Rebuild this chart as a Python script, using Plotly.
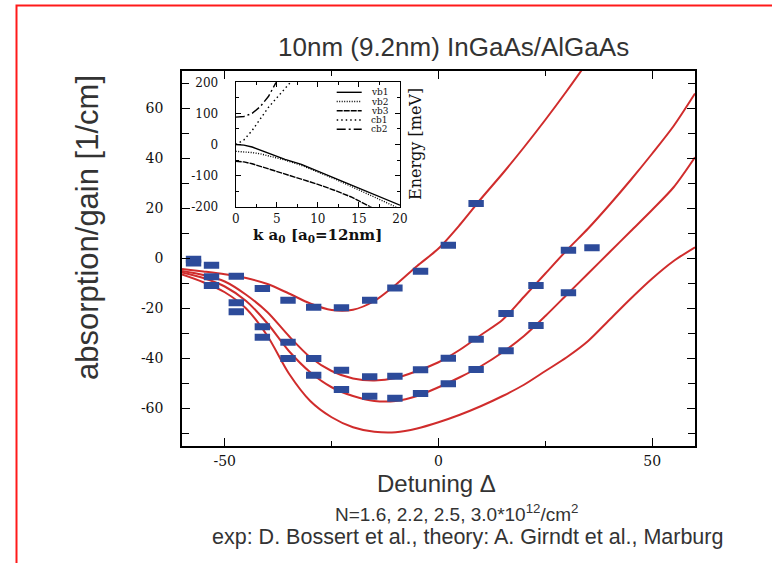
import plotly.graph_objects as go

# ---------------- main panel: absorption / gain vs detuning ----------------
detuning = [-60, -55, -50, -45, -40, -35, -30, -25, -20, -15, -10, -5,
            0, 5, 10, 15, 20, 25, 30, 35, 40, 45, 50, 55, 60]

# theory curves for N = 1.6, 2.2, 2.5, 3.0 x 10^12 / cm^2
theory_n16 = [-4.2, -5.2, -6.3, -7.8, -10.2, -14.0, -18.0, -20.6, -20.5, -17.0,
              -10.5, -3.0, 4.0, 13.5, 24.0, 34.0, 44.5, 55.5, 67.0, 79.0]
theory_n22 = [-5.0, -6.6, -9.2, -14.5, -21.5, -31.0, -39.5, -45.0, -48.0, -48.8,
              -47.8, -45.0, -41.5, -36.5, -30.5, -24.5, -15.3, -6.0, 3.3, 12.0,
              21.5, 31.5, 42.0, 53.0, 66.0]
theory_n25 = [-5.6, -7.8, -11.2, -17.0, -26.0, -37.0, -45.5, -51.5, -55.0, -57.0,
              -57.0, -55.0, -51.5, -47.5, -43.0, -37.5, -31.0, -23.0, -14.5, -6.0,
              2.5, 11.0, 19.5, 28.5, 40.5]
theory_n30 = [-6.4, -9.5, -13.5, -20.0, -31.0, -46.0, -57.0, -63.5, -67.5, -69.3,
              -69.5, -68.0, -65.5, -62.5, -59.0, -55.0, -50.5, -45.0, -39.5, -33.0,
              -24.5, -16.0, -8.0, -1.0, 4.5]

# measured points
exp_n16_x = [-57.3, -53.1, -47.3, -41.2, -35.2, -29.2, -22.7, -16.1, -10.2, -4.2, 2.3, 8.8]
exp_n16_y = [-0.3, -2.7, -7.1, -12.0, -16.7, -19.5, -19.7, -16.7, -11.8, -5.1, 5.3, 22.0]
exp_n22_x = [-57.3, -53.1, -47.3, -41.2, -35.2, -29.2, -22.7, -16.1, -10.2, -4.2, 2.3,
             8.8, 15.8, 22.8, 30.4, 35.9]
exp_n22_y = [-1.8, -7.3, -17.7, -27.3, -33.5, -40.0, -44.7, -47.3, -47.1, -44.5, -39.9,
             -32.3, -22.0, -10.8, 3.3, 4.3]
exp_n25_x = [-53.1, -47.3, -41.2, -35.2, -29.2, -22.7, -16.1, -10.2, -4.2, 2.3, 8.8,
             15.8, 22.8, 30.4]
exp_n25_y = [-10.8, -21.3, -31.5, -40.0, -46.7, -52.4, -55.1, -55.9, -54.0, -50.1,
             -44.4, -36.9, -26.8, -13.7]

x_ticks = [-50, 0, 50]
x_ticktext = ["-50", "0", "50"]
y_ticks = [-60, -40, -20, 0, 20, 40, 60]
y_ticktext = ["-60", "-40", "-20", "0", "20", "40", "60"]

# ---------------- inset: band structure ----------------
k_vals = [0, 1, 2, 3, 4, 5, 6, 8, 10, 12, 14, 16, 18, 20]
vb1 = [0, -2, -8, -18, -30, -40, -48, -64, -86, -108, -130, -153, -175, -195]
vb2 = [-22, -23, -26, -30, -36, -43, -50, -67, -88, -110, -134, -158, -182, -207]
vb3 = [-54, -56, -62, -70, -79, -87, -95, -111, -128, -147, -168, -195, -222, -250]
k_cb = [0, 1, 2, 3, 4, 5, 6, 7, 8]
cb1 = [0, 15, 45, 82, 120, 150, 178, 208, 240]
cb2 = [88, 90, 100, 122, 155, 200, 250, 300, 350]

inset_x_ticks = [0, 5, 10, 15, 20]
inset_y_ticks = [-200, -100, 0, 100, 200]
inset_y_ticktext = ["-200", "-100", "0", "100", "200"]

bands = [
    ("vb1", k_vals, vb1, "solid"),
    ("vb2", k_vals, vb2, "1px,1.5px"),
    ("vb3", k_vals, vb3, "6px,1px"),
    ("cb1", k_cb, cb1, "1.5px,3px"),
    ("cb2", k_cb, cb2, "9px,3px,2px,3px"),
]

RED = "#d02c2c"
BLUE = "#2d4b9a"
SERIF = "DejaVu Serif"
SANS = "Liberation Sans"
TXT = "#333333"

W, H = 772, 563
L, R, T, B = 182, 695, 71, 446  # plot area in pixels


def px(xpix):
    return (xpix - L) / (R - L)


def py(ypix):
    return (B - ypix) / (B - T)


fig = go.Figure()

for vals in (theory_n16, theory_n22, theory_n25, theory_n30):
    fig.add_trace(go.Scatter(
        x=detuning[:len(vals)], y=vals, mode="lines",
        line=dict(color=RED, width=2, shape="spline", smoothing=0.8),
        showlegend=False, hoverinfo="skip"))

for xs, ys in ((exp_n16_x, exp_n16_y), (exp_n22_x, exp_n22_y), (exp_n25_x, exp_n25_y)):
    fig.add_trace(go.Scatter(
        x=xs, y=ys, mode="markers",
        marker=dict(symbol="line-ew", size=11,
                    line=dict(color=BLUE, width=7), color=BLUE),
        showlegend=False, cliponaxis=False))

for name, ks, es, dash in bands:
    fig.add_trace(go.Scatter(
        x=ks, y=es, mode="lines", xaxis="x2", yaxis="y2",
        line=dict(color="black", width=1.4, dash=dash),
        showlegend=False, name=name))

axis_common = dict(showline=True, linecolor="black", linewidth=1.5,
                   mirror="allticks", ticks="inside", tickcolor="black",
                   showgrid=False, zeroline=False)

fig.update_layout(
    width=W, height=H,
    margin=dict(l=L, r=W - R, t=T, b=H - B),
    paper_bgcolor="white", plot_bgcolor="white",
    xaxis=dict(range=[-60, 60], tickvals=x_ticks, ticktext=x_ticktext,
               ticklen=8, tickwidth=1.3,
               minor=dict(tickvals=[-25, 25], ticklen=5, tickcolor="black",
                          ticks="inside", tickwidth=1.3),
               tickfont=dict(family=SERIF, size=14, color="#111"),
               ticklabelstandoff=1, **axis_common),
    yaxis=dict(range=[-75, 75], tickvals=y_ticks, ticktext=y_ticktext,
               ticklen=8, tickwidth=1.3,
               minor=dict(dtick=10, ticklen=7, tickcolor="black",
                          ticks="inside", tickwidth=1.3),
               tickfont=dict(family=SERIF, size=14, color="#111"),
               ticklabelstandoff=14, **axis_common),
    xaxis2=dict(domain=[px(235.7), px(400)], anchor="y2", range=[0, 20],
                tickvals=inset_x_ticks, ticklen=5, tickwidth=1,
                minor=dict(dtick=2.5, ticklen=3, tickcolor="black", ticks="inside"),
                tickfont=dict(family=SERIF, size=12, color="#111"),
                ticklabelstandoff=1,
                showline=True, linecolor="black", linewidth=1.2, mirror="allticks",
                ticks="inside", tickcolor="black", showgrid=False, zeroline=False),
    yaxis2=dict(domain=[py(206.7), py(82.3)], anchor="x2", range=[-200, 200],
                tickvals=inset_y_ticks, ticktext=inset_y_ticktext,
                ticklen=5, tickwidth=1,
                minor=dict(dtick=50, ticklen=3, tickcolor="black", ticks="inside"),
                tickfont=dict(family=SERIF, size=12, color="#111"),
                ticklabelstandoff=14,
                showline=True, linecolor="black", linewidth=1.2, mirror="allticks",
                ticks="inside", tickcolor="black", showgrid=False, zeroline=False),
)

annotations = [
    dict(text="10nm (9.2nm) InGaAs/AlGaAs", x=px(453), y=py(47),
         font=dict(family=SANS, size=26, color=TXT)),
    dict(text="absorption/gain [1/cm]", x=px(87), y=py(228), textangle=-90,
         font=dict(family=SANS, size=31, color=TXT)),
    dict(text="Detuning \u0394", x=px(436), y=py(483),
         font=dict(family=SANS, size=24, color=TXT)),
    dict(text="N=1.6, 2.2, 2.5, 3.0*10<sup>12</sup>/cm<sup>2</sup>", x=px(456), y=py(513),
         font=dict(family=SANS, size=19, color=TXT)),
    dict(text="exp: D. Bossert et al., theory: A. Girndt et al., Marburg", x=px(467), y=py(537),
         font=dict(family=SANS, size=21.5, color=TXT)),
    dict(text="<b>k a<sub>0</sub> [a<sub>0</sub>=12nm]</b>", x=px(317), y=py(236),
         font=dict(family=SERIF, size=15, color="#111")),
    dict(text="Energy [meV]", x=px(415), y=py(144), textangle=-90,
         font=dict(family=SERIF, size=16, color="#111")),
]

shapes = [
    # red frame around the slide
    dict(type="rect", xref="paper", yref="paper",
         x0=px(16.5), x1=px(800), y0=py(620), y1=py(5.5),
         line=dict(color="#ff1a1a", width=2), layer="above"),
]

# inset legend: line keys with labels
for i, (name, _, _, dash) in enumerate(bands):
    yk = 92.3 + i * 9.25
    shapes.append(dict(type="line", xref="paper", yref="paper",
                       x0=px(336.7), x1=px(361.7), y0=py(yk), y1=py(yk),
                       line=dict(color="black", width=1.4, dash=dash)))
    annotations.append(dict(text=name, x=px(369), y=py(yk), xanchor="left",
                            font=dict(family=SERIF, size=9, color="#111")))

for a in annotations:
    a.setdefault("xref", "paper")
    a.setdefault("yref", "paper")
    a.setdefault("showarrow", False)
    a.setdefault("xanchor", "center")
    a.setdefault("yanchor", "middle")

fig.update_layout(annotations=annotations, shapes=shapes)

fig.write_html("out.html")
